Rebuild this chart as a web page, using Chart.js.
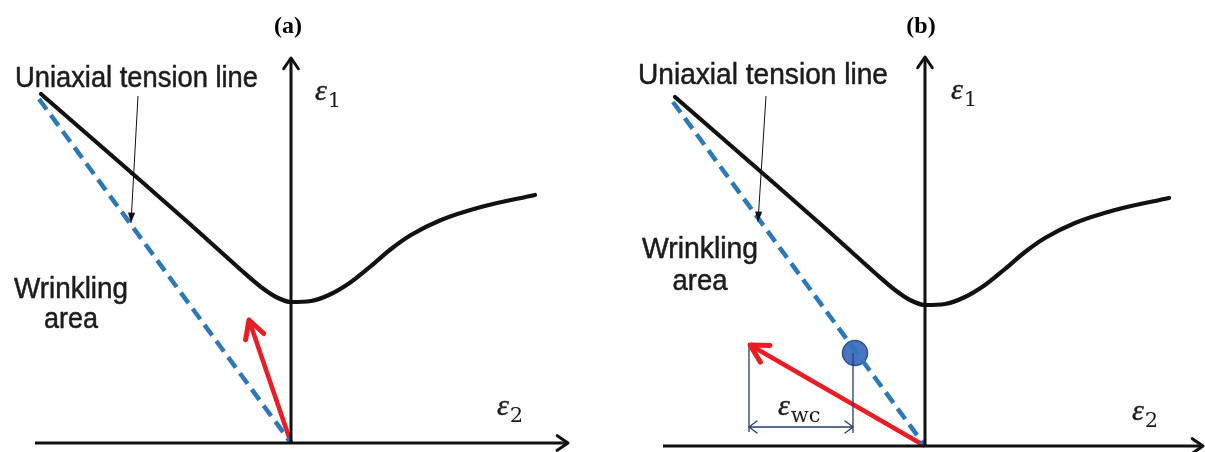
<!DOCTYPE html>
<html>
<head>
<meta charset="utf-8">
<script src="https://cdn.jsdelivr.net/npm/chart.js@4/dist/chart.umd.min.js"></script>
<style>
  html, body { margin: 0; padding: 0; background: #fff; }
  #wrap { position: relative; width: 1205px; height: 452px; }
  canvas { position: absolute; top: 0; }
</style>
</head>
<body>
<div id="wrap">
  <canvas id="panelA" width="602" height="452" style="left:0"></canvas>
  <canvas id="panelB" width="603" height="452" style="left:602px"></canvas>
</div>
<script>
// forming limit curve, same shape in both panels (eps2, eps1)
const flcE2 = [-2.50, -1.50, -1.00, -0.70, -0.50, -0.30, -0.15, 0.00, 0.20, 0.40, 0.60, 0.80, 1.00, 1.20, 1.50, 1.90, 2.44];
const flcE1 = [3.49, 2.62, 2.18, 1.91, 1.73, 1.56, 1.46, 1.41, 1.42, 1.49, 1.61, 1.77, 1.94, 2.08, 2.23, 2.36, 2.48];

// uniaxial tension line through the origin
const uniaxialE2 = [-2.52, 0];
const uniaxialE1 = [3.44, 0];

// strain paths (red arrows)
const pathAE2 = [0, -0.42];
const pathAE1 = [0, 1.23];
const pathBE2 = [0, -1.75];
const pathBE1 = [0, 1.01];

// pointer from the "Uniaxial tension line" label
const pointerAE2 = [-1.53, -1.60];
const pointerAE1 = [3.47, 2.20];
const pointerBE2 = [-1.59, -1.67];
const pointerBE1 = [3.50, 2.24];

// wrinkling onset point and eps_wc span in panel (b)
const wrinkleE2 = [-0.70];
const wrinkleE1 = [0.93];
const wcE2 = [-1.76, -0.72];

const BLACK = '#111';
const RED = '#ea1c24';
const BLUE = '#2b79ba';
const NAVY = '#23406e';
const TEXT = '#1c1c1c';

const xy = (xs, ys) => xs.map((x, i) => ({ x: x, y: ys[i] }));

function drawHead(ctx, tip, from, st) {
  const ang = Math.atan2(tip.y - from.y, tip.x - from.x);
  const p1 = { x: tip.x - st.len * Math.cos(ang - st.spread), y: tip.y - st.len * Math.sin(ang - st.spread) };
  const p2 = { x: tip.x - st.len * Math.cos(ang + st.spread), y: tip.y - st.len * Math.sin(ang + st.spread) };
  ctx.save();
  ctx.strokeStyle = st.color;
  ctx.fillStyle = st.color;
  ctx.lineWidth = st.width;
  ctx.lineCap = 'round';
  ctx.lineJoin = 'round';
  ctx.beginPath();
  ctx.moveTo(p1.x, p1.y);
  ctx.lineTo(tip.x, tip.y);
  ctx.lineTo(p2.x, p2.y);
  if (st.filled) { ctx.closePath(); ctx.fill(); } else { ctx.stroke(); }
  ctx.restore();
}

function fitText(ctx, l, x, y) {
  ctx.save();
  ctx.font = l.font;
  const w = ctx.measureText(l.text).width;
  const s = l.width ? l.width / w : 1;
  ctx.translate(x, y);
  ctx.scale(s, 1);
  ctx.textAlign = l.align || 'left';
  ctx.textBaseline = 'alphabetic';
  ctx.fillStyle = l.color || TEXT;
  ctx.fillText(l.text, 0, 0);
  if (l.heavy) {
    ctx.strokeStyle = l.color || TEXT;
    ctx.lineWidth = l.heavy;
    ctx.strokeText(l.text, 0, 0);
  }
  ctx.restore();
}

function drawEps(ctx, sub, x, y) {
  ctx.save();
  ctx.fillStyle = TEXT;
  ctx.strokeStyle = TEXT;
  ctx.lineWidth = 0.4;
  ctx.textAlign = 'left';
  ctx.textBaseline = 'alphabetic';
  ctx.font = 'italic 30px "Liberation Serif"';
  ctx.fillText('\u03B5', x, y);
  ctx.strokeText('\u03B5', x, y);
  const w = ctx.measureText('\u03B5').width;
  ctx.font = '21px "DejaVu Serif"';
  ctx.fillText(sub, x + w + 1, y + 7);
  ctx.restore();
}

function makeSketch(labels) {
  return {
    id: 'sketch',
    afterDatasetsDraw(chart) {
      const ctx = chart.ctx;
      const sx = chart.scales.x, sy = chart.scales.y;
      chart.data.datasets.forEach((ds, i) => {
        const pts = chart.getDatasetMeta(i).data;
        if (ds.headEnd) drawHead(ctx, pts[pts.length - 1], pts[pts.length - 2], ds.headEnd);
        if (ds.headStart) drawHead(ctx, pts[0], pts[1], ds.headStart);
      });
      labels.forEach(l => {
        const px = sx.getPixelForValue(l.x), py = sy.getPixelForValue(l.y);
        if (l.sub) drawEps(ctx, l.sub, px, py);
        else fitText(ctx, l, px, py);
      });
    }
  };
}

const axisHead = { len: 13, spread: 0.6, width: 3, color: BLACK };
const redHead = { len: 20, spread: 0.5, width: 5, color: RED };
const pointerHead = { len: 11, spread: 0.33, width: 1, color: BLACK, filled: true };
const dimHead = { len: 10, spread: 0.65, width: 1.3, color: NAVY };

function line(points, color, width, extra) {
  return Object.assign({
    data: points, showLine: true, borderColor: color, borderWidth: width,
    pointRadius: 0, fill: false, tension: 0
  }, extra || {});
}

const SANS = '29px "Liberation Sans"';
const TITLE = 'bold 24px "Liberation Serif"';

const panels = [
  {
    canvas: 'panelA', xr: [-2.91, 3.11], yr: [-0.09, 4.43],
    axisE2: [-2.56, 2.77], axisTop: 3.85,
    pathE2: pathAE2, pathE1: pathAE1,
    ptrE2: pointerAE2, ptrE1: pointerAE1,
    labels: [
      { text: '(a)', x: -0.03, y: 4.10, font: TITLE, align: 'center', color: '#000' },
      { text: 'Uniaxial tension line', x: -2.76, y: 3.56, font: SANS, width: 243, heavy: 0.5 },
      { text: 'Wrinkling', x: -2.20, y: 1.45, font: SANS, width: 114, align: 'center', heavy: 0.5 },
      { text: 'area', x: -2.20, y: 1.15, font: SANS, width: 54, align: 'center', heavy: 0.5 },
      { sub: '1', x: 0.24, y: 3.43 },
      { sub: '2', x: 2.06, y: 0.28 }
    ],
    extra: []
  },
  {
    canvas: 'panelB', xr: [-3.23, 2.80], yr: [-0.06, 4.46],
    axisE2: [-2.62, 2.78], axisTop: 3.89,
    pathE2: pathBE2, pathE1: pathBE1,
    ptrE2: pointerBE2, ptrE1: pointerBE1,
    labels: [
      { text: '(b)', x: -0.04, y: 4.13, font: TITLE, align: 'center', color: '#000' },
      { text: 'Uniaxial tension line', x: -2.87, y: 3.62, font: SANS, width: 250, heavy: 0.5 },
      { text: 'Wrinkling', x: -2.25, y: 1.88, font: SANS, width: 116, align: 'center', heavy: 0.5 },
      { text: 'area', x: -2.25, y: 1.56, font: SANS, width: 55, align: 'center', heavy: 0.5 },
      { sub: '1', x: 0.26, y: 3.47 },
      { sub: '2', x: 2.07, y: 0.26 },
      { sub: 'wc', x: -1.47, y: 0.31 }
    ],
    extra: [
      line(xy([wcE2[0], wcE2[0]], [pathBE1[1], 0.14]), NAVY, 1.3),
      line(xy([wcE2[1], wcE2[1]], [wrinkleE1[0], 0.13]), NAVY, 1.3),
      line(xy(wcE2, [0.19, 0.19]), NAVY, 1.3, { headStart: dimHead, headEnd: dimHead }),
      {
        data: xy(wrinkleE2, wrinkleE1), showLine: false, pointRadius: 12.5,
        pointBackgroundColor: '#4a74c2', pointBorderColor: '#2f528f', pointBorderWidth: 1.5
      }
    ]
  }
];

panels.forEach(p => {
  const datasets = [
    line(xy(p.axisE2, [0, 0]), BLACK, 3, { headEnd: axisHead }),
    line(xy([0, 0], [0, p.axisTop]), BLACK, 3, { headEnd: axisHead }),
    line(xy(uniaxialE2, uniaxialE1), BLUE, 4.5, { borderDash: [13, 7] }),
    line(xy(flcE2, flcE1), BLACK, 4.2, { cubicInterpolationMode: 'monotone', borderCapStyle: 'round' }),
    line(xy(p.ptrE2, p.ptrE1), BLACK, 1, { headEnd: pointerHead })
  ].concat(p.extra).concat([
    line(xy(p.pathE2, p.pathE1), RED, 4.5, { headEnd: redHead })
  ]);

  new Chart(document.getElementById(p.canvas), {
    type: 'scatter',
    data: { datasets: datasets },
    options: {
      responsive: false,
      animation: false,
      layout: { padding: 0, autoPadding: false },
      plugins: { legend: { display: false }, tooltip: { enabled: false } },
      scales: {
        x: { type: 'linear', display: false, min: p.xr[0], max: p.xr[1] },
        y: { type: 'linear', display: false, min: p.yr[0], max: p.yr[1] }
      }
    },
    plugins: [makeSketch(p.labels)]
  });
});
</script>
</body>
</html>
